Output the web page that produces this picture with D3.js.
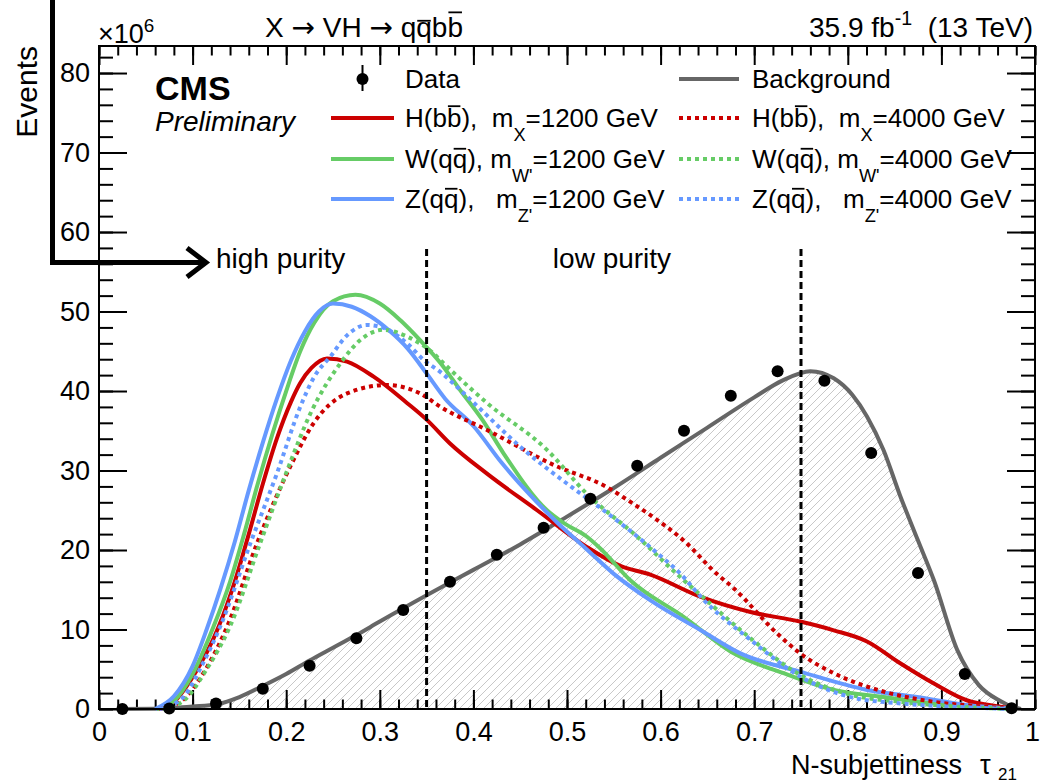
<!DOCTYPE html>
<html>
<head>
<meta charset="utf-8">
<script src="https://cdn.jsdelivr.net/npm/d3@7"></script>
<style>
body { margin: 0; background: #fff; }
svg { display: block; font-family: "Liberation Sans", Arial, sans-serif; }
text { white-space: pre; }
</style>
</head>
<body>
<script>
// ---- data (tau21 , events / 1e6) ----
const dataPoints = [
    [0.025, 0.0], [0.075, 0.05], [0.125, 0.7], [0.175, 2.55], [0.225, 5.45],
    [0.275, 8.9], [0.325, 12.45], [0.375, 16.0], [0.425, 19.4], [0.475, 22.8],
    [0.525, 26.45], [0.575, 30.6], [0.625, 35.0], [0.675, 39.4], [0.725, 42.5],
    [0.775, 41.3], [0.825, 32.2], [0.875, 17.1], [0.925, 4.4], [0.975, 0.1]
];

const background = [
    [0.02, 0], [0.06, 0.02], [0.08, 0.12], [0.1, 0.3], [0.126, 0.6], [0.15, 1.5],
    [0.175, 2.9], [0.2, 4.4], [0.225, 6.1], [0.25, 7.7], [0.275, 9.3], [0.3, 11.0],
    [0.35, 14.3], [0.4, 17.5], [0.45, 20.7], [0.5, 24.2], [0.55, 27.8], [0.6, 31.6],
    [0.65, 35.4], [0.7, 39.2], [0.73, 41.3], [0.76, 42.5], [0.785, 41.6], [0.805, 39.5],
    [0.8205, 36.8], [0.838, 32.6], [0.856, 26.8], [0.875, 21.2], [0.892, 16.2],
    [0.917, 7.4], [0.94, 3.0], [0.963, 1.0], [0.975, 0.3], [0.985, 0]
];

const hbb1200 = [
    [0.064, 0], [0.08, 0.9], [0.10, 4.0], [0.128, 10.4], [0.145, 16.0], [0.16, 22.0],
    [0.175, 28.3], [0.19, 34.0], [0.205, 38.6], [0.215, 41.0], [0.227, 42.9],
    [0.2436, 44.1], [0.265, 43.7], [0.2934, 41.8], [0.329, 38.5], [0.35, 36.4],
    [0.375, 33.4], [0.4145, 29.6], [0.468, 25.0], [0.521, 20.4], [0.557, 18.0],
    [0.589, 16.9], [0.643, 14.1], [0.696, 12.2], [0.749, 11.0], [0.785, 9.9],
    [0.8205, 8.5], [0.856, 5.75], [0.892, 3.2], [0.927, 1.1], [0.963, 0.3], [0.975, 0.1]
];

const wqq1200 = [
    [0.062, 0], [0.08, 1.0], [0.10, 4.4], [0.1225, 10.4], [0.14, 16.0], [0.155, 22.0],
    [0.17, 28.5], [0.185, 34.5], [0.2, 40.0], [0.215, 45.0], [0.23, 48.6], [0.25, 51.3],
    [0.274, 52.1], [0.30, 51.0], [0.322, 48.9], [0.343, 46.4], [0.365, 43.5],
    [0.386, 40.1], [0.41, 36.3], [0.432, 32.2], [0.4786, 25.0], [0.4964, 23.4],
    [0.521, 21.7], [0.5356, 20.2], [0.5676, 16.2], [0.6246, 11.6], [0.678, 7.0],
    [0.7314, 4.5], [0.785, 2.4], [0.838, 1.5], [0.892, 0.7], [0.963, 0.1], [0.975, 0]
];

const zqq1200 = [
    [0.06, 0], [0.08, 1.6], [0.10, 5.4], [0.115, 10.0], [0.13, 15.2], [0.145, 21.0],
    [0.16, 27.5], [0.175, 33.5], [0.19, 39.0], [0.205, 43.8], [0.22, 47.5], [0.235, 50.0],
    [0.25, 51.0], [0.27, 50.6], [0.29, 49.4], [0.31, 47.6], [0.33, 45.3], [0.35, 42.2],
    [0.37, 39.0], [0.40, 35.6], [0.43, 31.0], [0.46, 27.0], [0.49, 23.4], [0.52, 20.2],
    [0.55, 17.0], [0.59, 13.6], [0.643, 9.9], [0.6853, 7.0], [0.749, 4.7], [0.8205, 2.4],
    [0.874, 1.5], [0.927, 0.5], [0.975, 0.05]
];

const hbb4000 = [
    [0.066, 0], [0.09, 1.2], [0.115, 5.2], [0.137, 10.4], [0.1687, 20.8], [0.206, 30.9],
    [0.229, 35.9], [0.265, 39.7], [0.3077, 40.75], [0.343, 39.7], [0.365, 38.0],
    [0.4145, 35.1], [0.4857, 30.7], [0.5428, 27.9], [0.571, 25.8], [0.5925, 24.1],
    [0.6246, 21.2], [0.66, 17.0], [0.678, 15.2], [0.7245, 9.5], [0.749, 7.0],
    [0.785, 4.5], [0.838, 2.2], [0.892, 0.9], [0.945, 0.3], [0.975, 0]
];

const wqq4000 = [
    [0.068, 0], [0.09, 1.0], [0.115, 5.0], [0.14, 10.4], [0.172, 20.8], [0.201, 30.0],
    [0.226, 37.2], [0.258, 43.5], [0.28, 46.5], [0.304, 47.7], [0.33, 46.8],
    [0.3575, 44.7], [0.368, 43.5], [0.4145, 38.5], [0.4786, 32.6], [0.521, 27.1],
    [0.5748, 21.7], [0.621, 16.6], [0.643, 14.3], [0.696, 8.9], [0.749, 4.3],
    [0.803, 1.8], [0.856, 0.9], [0.91, 0.35], [0.975, 0]
];

const zqq4000 = [
    [0.065, 0], [0.09, 1.5], [0.11, 5.5], [0.1296, 10.4], [0.1616, 20.8], [0.19, 29.6],
    [0.215, 38.0], [0.23, 41.8], [0.247, 44.3], [0.265, 47.0], [0.286, 48.3],
    [0.305, 47.9], [0.329, 46.0], [0.347, 43.9], [0.3646, 42.4], [0.397, 38.9],
    [0.45, 33.0], [0.504, 28.0], [0.539, 25.0], [0.5925, 20.0], [0.6246, 16.6],
    [0.643, 14.1], [0.696, 8.7], [0.749, 4.1], [0.803, 1.5], [0.856, 0.7],
    [0.91, 0.3], [0.975, 0]
];

const cutValues = [0.35, 0.75];
const xTickValues = d3.range(0, 11).map(i => i / 10);
const xTickLabels = ['0', '0.1', '0.2', '0.3', '0.4', '0.5', '0.6', '0.7', '0.8', '0.9', '1'];
const yTickValues = [0, 10, 20, 30, 40, 50, 60, 70, 80];

const colors = { red: '#cc0000', green: '#66cc66', blue: '#6699ff', bkg: '#666666' };

// ---- layout ----
const frame = { left: 99, right: 1035, top: 46, bottom: 709 };

const svg = d3.select('body').append('svg')
    .attr('width', 1041)
    .attr('height', 784);

const x = d3.scaleLinear().domain([0, 1]).range([frame.left, frame.right]);
const y = d3.scaleLinear().domain([0, 83.4]).range([frame.bottom, frame.top]);

// hatch pattern for background
const defs = svg.append('defs');
const pat = defs.append('pattern')
    .attr('id', 'hatch')
    .attr('patternUnits', 'userSpaceOnUse')
    .attr('width', 8).attr('height', 8);
pat.append('path')
    .attr('d', 'M-1,1 l2,-2 M0,8 l8,-8 M7,9 l2,-2')
    .attr('stroke', '#c8c8c8')
    .attr('stroke-width', 1);

const line = d3.line()
    .x(d => x(d[0]))
    .y(d => y(d[1]))
    .curve(d3.curveMonotoneX);

const area = d3.area()
    .x(d => x(d[0]))
    .y0(y(0))
    .y1(d => y(d[1]))
    .curve(d3.curveMonotoneX);

svg.append('path')
    .datum(background)
    .attr('d', area)
    .attr('fill', 'url(#hatch)');

// axes (ROOT style: ticks inside, mirrored)
function drawAxis(axis, tx, ty, cls) {
    const g = svg.append('g')
        .attr('class', cls)
        .attr('transform', `translate(${tx},${ty})`)
        .call(axis);
    g.select('.domain').remove();
    g.selectAll('line').attr('stroke', '#000').attr('stroke-width', 2);
    return g;
}

const xMinor = d3.range(0, 51).map(i => i / 50);
const yMinor = d3.range(0, 42).map(i => i * 2);

drawAxis(d3.axisBottom(x).tickValues(xMinor).tickSize(-9.5).tickFormat(''), 0, frame.bottom);
drawAxis(d3.axisTop(x).tickValues(xMinor).tickSize(-9.5).tickFormat(''), 0, frame.top);
drawAxis(d3.axisTop(x).tickValues(xTickValues).tickSize(-19).tickFormat(''), 0, frame.top);
const xAxis = drawAxis(d3.axisBottom(x).tickValues(xTickValues).tickSize(-19)
    .tickPadding(13).tickFormat((d, i) => xTickLabels[i]), 0, frame.bottom, 'xaxis');
xAxis.selectAll('text').filter(d => d === 1).attr('dx', -3);

drawAxis(d3.axisLeft(y).tickValues(yMinor).tickSize(-14).tickFormat(''), frame.left, 0);
drawAxis(d3.axisRight(y).tickValues(yMinor).tickSize(-14).tickFormat(''), frame.right, 0);
drawAxis(d3.axisRight(y).tickValues(yTickValues).tickSize(-28).tickFormat(''), frame.right, 0);
const yAxis = drawAxis(d3.axisLeft(y).tickValues(yTickValues).tickSize(-28)
    .tickPadding(9), frame.left, 0, 'yaxis');

svg.selectAll('.xaxis text, .yaxis text')
    .attr('font-family', '"Liberation Sans", Arial, sans-serif')
    .attr('font-size', 27)
    .attr('fill', '#000');

// background line
svg.append('path')
    .datum(background)
    .attr('d', line)
    .attr('fill', 'none')
    .attr('stroke', colors.bkg)
    .attr('stroke-width', 4);

// signals
const signals = [
    { data: hbb1200, color: colors.red, dash: null },
    { data: wqq1200, color: colors.green, dash: null },
    { data: zqq1200, color: colors.blue, dash: null },
    { data: hbb4000, color: colors.red, dash: '4,4' },
    { data: wqq4000, color: colors.green, dash: '4,4' },
    { data: zqq4000, color: colors.blue, dash: '4,4' }
];

svg.selectAll('.sig')
    .data(signals)
    .enter().append('path')
    .attr('class', 'sig')
    .attr('d', d => line(d.data))
    .attr('fill', 'none')
    .attr('stroke', d => d.color)
    .attr('stroke-width', 4)
    .attr('stroke-dasharray', d => d.dash);

// purity cuts
svg.selectAll('.cut')
    .data(cutValues)
    .enter().append('line')
    .attr('class', 'cut')
    .attr('x1', d => x(d)).attr('x2', d => x(d))
    .attr('y1', 249).attr('y2', frame.bottom)
    .attr('stroke', '#000')
    .attr('stroke-width', 3)
    .attr('stroke-dasharray', '7,4');

// data points
svg.selectAll('.dot')
    .data(dataPoints)
    .enter().append('circle')
    .attr('class', 'dot')
    .attr('cx', d => x(d[0]))
    .attr('cy', d => y(d[1]))
    .attr('r', 6);

// frame
svg.append('rect')
    .attr('x', frame.left).attr('y', frame.top)
    .attr('width', frame.right - frame.left)
    .attr('height', frame.bottom - frame.top)
    .attr('fill', 'none')
    .attr('stroke', '#000')
    .attr('stroke-width', 2);

// ---- text helpers ----
// parts: [text, kind, overline height in em] with kind '' | 'over' | 'sub' | 'sup' | 'arrow'
function rich(px, py, size, parts, anchor) {
    const t = svg.append('text')
        .attr('x', px).attr('y', py)
        .attr('font-size', size)
        .attr('text-anchor', anchor || 'start');
    let shift = 0;
    let idx = 0;
    const overs = [];
    parts.forEach(([s, kind, oh]) => {
        const sp = t.append('tspan').text(s);
        let target = 0;
        if (kind === 'sub') target = size * 0.55;
        if (kind === 'sup') target = -size * 0.42;
        if (target !== shift) { sp.attr('dy', target - shift); shift = target; }
        if (kind === 'sub' || kind === 'sup') sp.attr('font-size', size * 0.7);
        if (kind === 'arrow') sp.attr('font-family', '"DejaVu Sans", sans-serif');
        if (kind === 'over') overs.push({ idx: idx, h: oh || 0.75 });
        idx += s.length;
    });
    const node = t.node();
    overs.forEach(o => {
        const a = node.getStartPositionOfChar(o.idx).x;
        const b = node.getEndPositionOfChar(o.idx).x;
        svg.append('line')
            .attr('x1', a + 1).attr('x2', b - 1)
            .attr('y1', py - size * o.h).attr('y2', py - size * o.h)
            .attr('stroke', '#000').attr('stroke-width', 1.8);
    });
    return t;
}

rich(265, 37, 28, [['X '], ['→', 'arrow'], [' VH '], ['→', 'arrow'], [' q'],
    ['q', 'over', 0.58], ['b'], ['b', 'over', 0.88]]);
rich(1033, 37, 28, [['35.9 fb'], ['-1', 'sup'], ['  (13 TeV)']], 'end');
rich(98, 43, 27, [['×10'], ['6', 'sup']]);

svg.append('text')
    .attr('transform', `translate(37,${frame.top}) rotate(-90)`)
    .attr('text-anchor', 'end')
    .attr('font-size', 30)
    .text('Events');

svg.append('text').attr('x', 962).attr('y', 774).attr('font-size', 27)
    .attr('text-anchor', 'end').text('N-subjettiness');
svg.append('text').attr('x', 980).attr('y', 774).attr('font-size', 27).text('τ');
svg.append('text').attr('x', 998).attr('y', 780).attr('font-size', 17).text('21');

svg.append('text').attr('x', 155).attr('y', 100)
    .attr('font-size', 34).attr('font-weight', 'bold').text('CMS');
svg.append('text').attr('x', 155).attr('y', 131)
    .attr('font-size', 28).attr('font-style', 'italic').text('Preliminary');

svg.append('text').attr('x', 216).attr('y', 268).attr('font-size', 28).text('high purity');
svg.append('text').attr('x', 612).attr('y', 268).attr('font-size', 28)
    .attr('text-anchor', 'middle').text('low purity');

// arrow marking the high purity region
svg.append('path')
    .attr('d', 'M52.5,0 V262.5 H205 M187,248 L206,262.5 L187,277')
    .attr('fill', 'none')
    .attr('stroke', '#000')
    .attr('stroke-width', 5)
    .attr('stroke-linejoin', 'miter');

// ---- legend ----
const legendRows = [
    { col: 0, y: 79, type: 'data', parts: [['Data']] },
    { col: 1, y: 79, type: 'line', color: colors.bkg, dash: null, parts: [['Background']] },
    { col: 0, y: 118, type: 'line', color: colors.red, dash: null,
      parts: [['H(b'], ['b', 'over', 0.8], ['),  m'], ['X', 'sub'], ['=1200 GeV']] },
    { col: 1, y: 118, type: 'line', color: colors.red, dash: '4,4',
      parts: [['H(b'], ['b', 'over', 0.8], ['),  m'], ['X', 'sub'], ['=4000 GeV']] },
    { col: 0, y: 159, type: 'line', color: colors.green, dash: null,
      parts: [['W(q'], ['q', 'over', 0.74], ['), m'], ["W'", 'sub'], ['=1200 GeV']] },
    { col: 1, y: 159, type: 'line', color: colors.green, dash: '4,4',
      parts: [['W(q'], ['q', 'over', 0.74], ['), m'], ["W'", 'sub'], ['=4000 GeV']] },
    { col: 0, y: 199, type: 'line', color: colors.blue, dash: null,
      parts: [['Z(q'], ['q', 'over', 0.74], ['),   m'], ["Z'", 'sub'], ['=1200 GeV']] },
    { col: 1, y: 199, type: 'line', color: colors.blue, dash: '4,4',
      parts: [['Z(q'], ['q', 'over', 0.74], ['),   m'], ["Z'", 'sub'], ['=4000 GeV']] }
];
const legendCols = [{ x0: 331, x1: 394, tx: 405 }, { x0: 679, x1: 739, tx: 752 }];

legendRows.forEach(r => {
    const c = legendCols[r.col];
    if (r.type === 'data') {
        const cx = (c.x0 + c.x1) / 2;
        svg.append('line').attr('x1', cx).attr('x2', cx)
            .attr('y1', r.y - 14).attr('y2', r.y + 12)
            .attr('stroke', '#000').attr('stroke-width', 2);
        svg.append('circle').attr('cx', cx).attr('cy', r.y).attr('r', 6);
    } else {
        svg.append('line').attr('x1', c.x0).attr('x2', c.x1)
            .attr('y1', r.y).attr('y2', r.y)
            .attr('stroke', r.color).attr('stroke-width', 4)
            .attr('stroke-dasharray', r.dash);
    }
    rich(c.tx, r.y + 9, 26, r.parts);
});
</script>
</body>
</html>
